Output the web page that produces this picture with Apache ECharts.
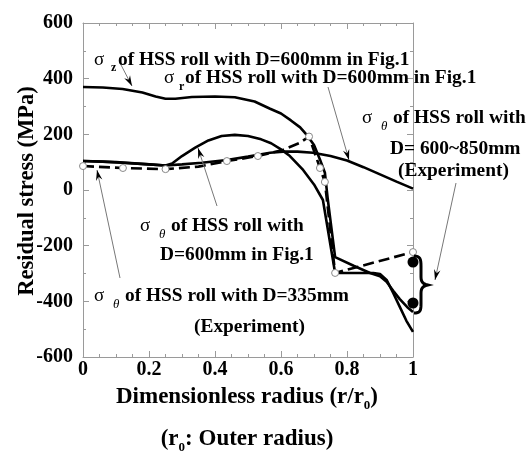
<!DOCTYPE html>
<html><head><meta charset="utf-8">
<script src="https://cdn.jsdelivr.net/npm/echarts@6/dist/echarts.min.js"></script>
<style>html,body{margin:0;padding:0;background:#fff}#c{width:529px;height:453px}</style>
</head><body><div id="c"></div>
<script>
// ---- data (r/r0, MPa) ----
const sigmaZ600 = [[0,370],[0.06,368],[0.12,363],[0.18,350],[0.22,336],[0.25,328],[0.28,328],[0.33,334],[0.4,336],[0.46,333],[0.52,318],[0.567,292],[0.6,275],[0.63,250],[0.658,225],[0.68,195],[0.7,162],[0.718,110],[0.733,62],[0.742,-36],[0.764,-241],[0.82,-272],[0.87,-298],[0.9,-310],[0.92,-330],[0.94,-362],[0.96,-392],[0.982,-420],[1,-438]];
const sigmaTheta600 = [[0,104],[0.06,102],[0.12,98],[0.2,92],[0.25,88],[0.27,95],[0.3,122],[0.34,152],[0.38,178],[0.42,194],[0.46,198],[0.5,194],[0.54,182],[0.57,168],[0.6,146],[0.627,122],[0.667,72],[0.7,20],[0.727,-36],[0.764,-298],[0.82,-298],[0.88,-298],[0.9,-302],[0.92,-323],[0.94,-370],[0.96,-420],[0.98,-470],[1,-510]];
const sigmaR600 = [[0,104],[0.1,100],[0.2,92],[0.25,88],[0.3,92],[0.36,98],[0.436,108],[0.5,120],[0.527,126],[0.567,134],[0.606,138],[0.65,138],[0.697,134],[0.75,122],[0.8,106],[0.85,82],[0.9,56],[0.95,30],[1,5]];
// D=335mm experiment: measured points (marked) and dashed connecting path
const exp335Points = [[0,86],[0.121,79],[0.25,75],[0.436,104],[0.53,122],[0.685,192],[0.718,79],[0.733,29],[0.764,-298],[1,-223]];
const exp335Path = [[0,86],[0.121,79],[0.25,75],[0.35,84],[0.436,104],[0.53,122],[0.606,144],[0.658,170],[0.685,192],[0.718,79],[0.733,29],[0.764,-298],[1,-223]];
const exp600to850 = [[1,-259],[1,-406]];
const yTicks = [-600,-400,-200,0,200,400,600];
const xTicks = [0,0.2,0.4,0.6,0.8,1];

const chart = echarts.init(document.getElementById('c'), null, {renderer:'canvas'});
const SERIF = '"Liberation Serif","Times New Roman",serif';
const axisGray = '#9a9a9a';
const ctx = document.createElement('canvas').getContext('2d');
function measure(t, f){ ctx.font = f; return ctx.measureText(t).width; }

const els = [];
function txt(x, y, t, font){ els.push({type:'text', x:x, y:y, z:100, silent:true, style:{text:t, font:font, fill:'#000', textAlign:'left', textVerticalAlign:'middle'}}); }
function seqCenter(cx, cy, parts){
  const w = parts.map(p => measure(p[0], p[1]));
  let x = cx - w.reduce((a,b)=>a+b,0)/2;
  parts.forEach((p,i)=>{ txt(x, cy + (p[2]||0), p[0], p[1]); x += w[i]; });
}
function arrow(x1,y1,x2,y2){
  els.push({type:'line', z:90, silent:true, shape:{x1:x1,y1:y1,x2:x2,y2:y2}, style:{stroke:'#777', lineWidth:1}});
  const a = Math.atan2(y2-y1, x2-x1), L=11, N=7, s=0.3;
  const p1=[x2-L*Math.cos(a-s), y2-L*Math.sin(a-s)];
  const p2=[x2-N*Math.cos(a), y2-N*Math.sin(a)];
  const p3=[x2-L*Math.cos(a+s), y2-L*Math.sin(a+s)];
  els.push({type:'polygon', z:91, silent:true, shape:{points:[[x2,y2],p1,p2,p3]}, style:{fill:'#000'}});
}
function bez(p0,p1,p2,p3,n){ const out=[]; for(let i=0;i<=n;i++){const t=i/n,u=1-t;
  out.push([u*u*u*p0[0]+3*u*u*t*p1[0]+3*u*t*t*p2[0]+t*t*t*p3[0], u*u*u*p0[1]+3*u*u*t*p1[1]+3*u*t*t*p2[1]+t*t*t*p3[1]]);} return out; }

const main = 'bold 19.4px ' + SERIF;
const sig = '19px ' + SERIF;
const subB = 'bold 12px ' + SERIF;
const subT = 'italic 13px ' + SERIF;

// annotation 1: sigma z
txt(94, 60, 'σ', sig); txt(111, 68, 'z', subB); txt(118, 60, 'of HSS roll with D=600mm in Fig.1', main);
// annotation 2: sigma r
txt(164, 78, 'σ', sig); txt(179, 87, 'r', subB); txt(185, 78, 'of HSS roll with D=600mm in Fig.1', main);
// annotation 3: sigma theta 600~850 exp
txt(362, 118, 'σ', sig); txt(381, 127, 'θ', subT); txt(393, 118, 'of HSS roll with', main);
txt(390, 149, 'D= 600~850mm', main); txt(398, 171, '(Experiment)', main);
// annotation 4: sigma theta 600
txt(140, 226, 'σ', sig); txt(159, 235, 'θ', subT); txt(171, 226, 'of HSS roll with', main);
txt(160, 255, 'D=600mm in Fig.1', main);
// annotation 5: sigma theta 335 exp
txt(94, 296, 'σ', sig); txt(113, 305, 'θ', subT); txt(125, 296, 'of HSS roll with D=335mm', main);
txt(194, 327, '(Experiment)', main);

// axis titles
const axF = 'bold 23px ' + SERIF, axS = 'bold 13px ' + SERIF;
seqCenter(247, 397, [['Dimensionless radius (r/r', axF], ['0', axS, 9], [')', axF]]);
seqCenter(247, 439, [['(r', axF], ['0', axS, 9], [': Outer radius)', axF]]);
els.push({type:'text', x:27, y:191, rotation:Math.PI/2, z:100, silent:true,
  style:{text:'Residual stress (MPa)', font:'bold 22.5px ' + SERIF, fill:'#000', textAlign:'center', textVerticalAlign:'middle'}});

// arrows
arrow(120, 63, 132, 86);
arrow(328, 87, 349, 160);
arrow(456, 183, 435, 280);
arrow(217, 206, 198, 148);
arrow(120, 278, 97, 170);
// brace
const brace = [].concat(
  bez([414,256],[420,256],[421,259],[421,266],8),
  [[421,277]],
  bez([421,277],[421,282],[423,284],[428,285],6),
  bez([428,285],[423,286],[421,288],[421,293],6),
  [[421,304]],
  bez([421,304],[421,311],[420,313],[414,313],8));
els.push({type:'polyline', z:95, silent:true, shape:{points:brace}, style:{stroke:'#000', lineWidth:3, fill:null}});

const lblFont = {fontFamily:SERIF, fontWeight:'bold', fontSize:20, color:'#000'};
function xAx(pos, show){ return {type:'value', min:0, max:1, interval:0.2, position:pos,
  axisLine:{show:true, onZero:false, lineStyle:{color:axisGray, width:1}},
  axisTick:{show:true, inside:true, length:6, lineStyle:{color:axisGray}},
  minorTick:{show:true, splitNumber:4, length:3, lineStyle:{color:axisGray}},
  splitLine:{show:false}, minorSplitLine:{show:false},
  axisLabel:Object.assign({show:show, margin:3, formatter:v=>String(+v.toFixed(1))}, lblFont)}; }
function yAx(pos, show){ return {type:'value', min:-600, max:600, interval:200, position:pos,
  axisLine:{show:true, onZero:false, lineStyle:{color:axisGray, width:1}},
  axisTick:{show:true, inside:true, length:6, lineStyle:{color:axisGray}},
  minorTick:{show:true, splitNumber:2, length:3, lineStyle:{color:axisGray}},
  splitLine:{show:false}, minorSplitLine:{show:false},
  axisLabel:Object.assign({show:show, margin:10}, lblFont)}; }

const lineS = (d) => ({type:'line', data:d, xAxisIndex:0, yAxisIndex:0, showSymbol:false, symbol:'none', smooth:false, z:3,
  lineStyle:{color:'#000', width:2.6}, silent:true});

chart.setOption({
  animation:false,
  grid:{left:83, top:23, width:330, height:334, containLabel:false},
  xAxis:[xAx('bottom', true), xAx('top', false)],
  yAxis:[yAx('left', true), yAx('right', false)],
  series:[
    lineS(sigmaZ600),
    lineS(sigmaTheta600),
    lineS(sigmaR600),
    {type:'line', data:exp335Path, showSymbol:false, symbol:'none', z:4, lineStyle:{color:'#000', width:2.6, type:[11,5]}, silent:true},
    {type:'scatter', data:exp335Points, symbol:'circle', symbolSize:7, z:6, itemStyle:{color:'#fff', borderColor:'#888', borderWidth:1, opacity:1}, silent:true},
    {type:'scatter', data:exp600to850, symbol:'circle', symbolSize:11, z:6, itemStyle:{color:'#000', opacity:1}, silent:true}
  ],
  graphic:{elements:els}
});
</script></body></html>
